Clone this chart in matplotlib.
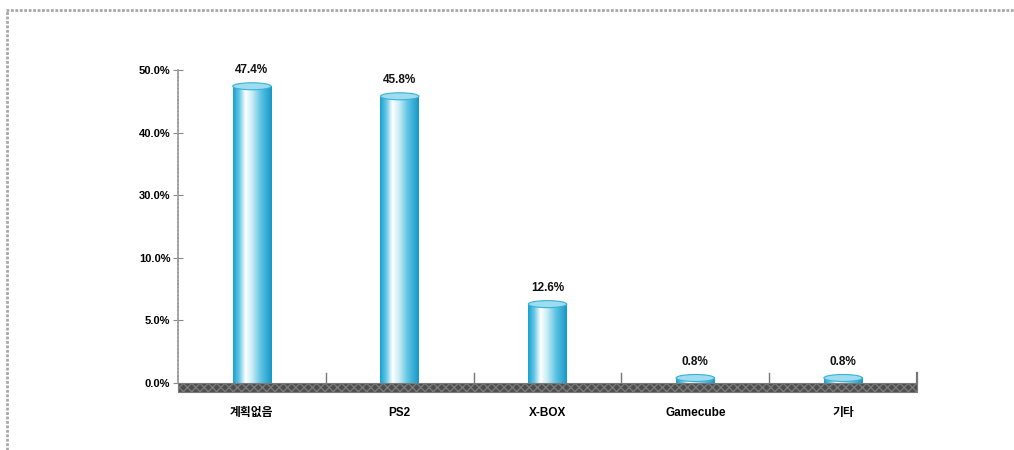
import matplotlib
matplotlib.use('Agg')
import matplotlib.pyplot as plt
import numpy as np
from matplotlib.colors import LinearSegmentedColormap
from matplotlib.patches import Ellipse, Rectangle
from matplotlib.lines import Line2D

# data
categories = ['계획없음', 'PS2', 'X-BOX', 'Gamecube', '기타']
values = [47.4, 45.8, 12.6, 0.8, 0.8]
ytick_pos = [0, 10, 20, 30, 40, 50]
ytick_labels = ['0.0%', '5.0%', '10.0%', '30.0%', '40.0%', '50.0%']

plt.rcParams['font.family'] = ['Liberation Sans', 'Noto Sans CJK KR', 'DejaVu Sans']

W, H = 1014, 450
fig = plt.figure(figsize=(W / 100, H / 100), dpi=100)
fig.patch.set_facecolor('white')

# outer dotted frame
fig.add_artist(Line2D([6 / W, 1.0], [1 - 10 / H, 1 - 10 / H], transform=fig.transFigure,
                      color='#a8a8a8', lw=2.0, ls=(0, (1, 0.6))))
fig.add_artist(Line2D([7 / W, 7 / W], [0, 1 - 10 / H], transform=fig.transFigure,
                      color='#a8a8a8', lw=2.0, ls=(0, (1, 0.6))))

ax_l, ax_r, ax_b, ax_t = 178 / W, 917 / W, 1 - 383 / H, 1 - 70 / H
ax = fig.add_axes([ax_l, ax_b, ax_r - ax_l, ax_t - ax_b])
ax.set_xlim(-0.5, len(categories) - 0.5)
ax.set_ylim(0, 50)

cmap = LinearSegmentedColormap.from_list('cyl', [
    (0.0, '#1aa2d0'), (0.15, '#62c6e6'), (0.32, '#ffffff'), (0.5, '#c4ebf6'),
    (0.72, '#5cc3e3'), (1.0, '#1898c8')])
grad = np.linspace(0, 1, 64).reshape(1, -1)

bw = 0.26
px_per_unit = (383 - 70) / 50
cap_h = 7 / px_per_unit
for i, v in enumerate(values):
    ax.imshow(grad, cmap=cmap, aspect='auto', extent=[i - bw / 2, i + bw / 2, 0, v],
              interpolation='bilinear', zorder=2)
    ax.add_patch(Ellipse((i, v), bw, cap_h, facecolor='#9edcef', edgecolor='#3ab0d8',
                         lw=0.8, zorder=3))
    ax.text(i, v + cap_h / 2 + 1.1, f'{v:.1f}%', ha='center', va='bottom',
            fontsize=8.5, fontweight='bold', color='#111111')

# separators on the floor
for b in np.arange(0.5, len(categories), 1.0):
    ax.plot([b, b], [0, 1.6], color='#777777', lw=1.0, zorder=1)
ax.plot([len(categories) - 0.5] * 2, [0, 1.6], color='#777777', lw=1.6, zorder=1, clip_on=False)

# floor band
fig.add_artist(Rectangle((ax_l, 1 - 392 / H), ax_r - ax_l, 9 / H, transform=fig.transFigure,
                         facecolor='#4e4e4e', edgecolor='#7a7a7a', lw=0.8, hatch='xxxx'))

for s in ['top', 'right', 'bottom']:
    ax.spines[s].set_visible(False)
ax.spines['left'].set_color('#9a9a9a')
ax.spines['left'].set_linestyle((0, (1.5, 0.8)))
ax.spines['left'].set_linewidth(1.2)

ax.set_yticks(ytick_pos)
ax.set_yticklabels(ytick_labels, fontsize=8, fontweight='bold')
ax.tick_params(axis='y', direction='inout', length=7, width=0.8, color='#888888', pad=2)

ax.set_xticks(range(len(categories)))
ax.set_xticklabels(categories, fontsize=8.5, fontweight='bold',
                   family=['Liberation Sans', 'Noto Sans CJK KR', 'DejaVu Sans'])
ax.tick_params(axis='x', length=0, pad=17)

fig.savefig('out.png', dpi=100)
